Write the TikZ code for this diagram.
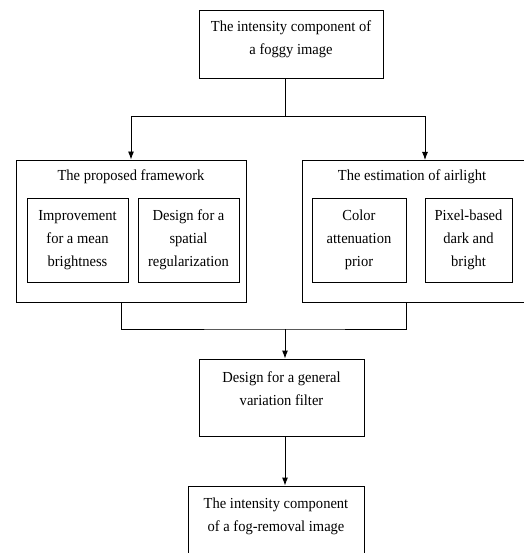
\documentclass[tikz,border=0pt]{standalone}
\usepackage{fontspec}
\setmainfont{Liberation Serif}[FakeStretch=0.95]
\usetikzlibrary{arrows.meta, calc, positioning}

\begin{document}
\begin{tikzpicture}[x=1pt, y=-1pt,
    box/.style={draw, line width=0.9pt, inner sep=0pt},
    txt/.style={align=center, inner sep=0pt, font=\fontsize{15.3}{23}\selectfont},
    link/.style={line width=0.9pt},
    arr/.style={-{Latex[length=8pt, width=6pt]}, line width=0.9pt}]
\useasboundingbox (0,0) rectangle (523,553);
% frames
\node[box, minimum width=184pt, minimum height=68pt] (input) at (291, 44) {};
\node[txt] (inputtext) at (291, 39) {The intensity component of\\a foggy image};
\node[box, minimum width=230pt, minimum height=142pt] (frame) at (131, 231) {};
\node[txt] (frametext) at (131, 177) {The proposed framework};
\node[box, minimum width=222pt, minimum height=142pt] (air) at (413, 231) {};
\node[txt] (airtext) at (412, 177) {The estimation of airlight};
% inner steps
\node[box, txt, minimum width=101pt, minimum height=84pt] (mean) at (77.5, 240) {Improvement\\for a mean\\brightness};
\node[box, txt, minimum width=101pt, minimum height=84pt] (spatial) at (188.5, 240) {Design for a\\spatial\\regularization};
\node[box, txt, minimum width=94pt, minimum height=84pt] (cap) at (359, 240) {Color\\attenuation\\prior};
\node[box, txt, minimum width=87pt, minimum height=84pt] (pixel) at (468.5, 240) {Pixel-based\\dark and\\bright};
% filter and result
\node[box, minimum width=165pt, minimum height=77pt] (gvf) at (281.5, 397.5) {};
\node[txt] (gvftext) at (281.5, 388.5) {Design for a general\\variation filter};
\node[box, minimum width=176pt, minimum height=80pt] (output) at (276, 526) {};
\node[txt] (outputtext) at (276, 516) {The intensity component\\of a fog-removal image};
% connectors
\coordinate (split) at (285, 116);
\coordinate (airin) at (425, 160);
\coordinate (frameout) at (121, 302);
\coordinate (airout) at (406, 302);
\coordinate (join) at (285, 329);
\draw[link] (input.south -| split) -- (split);
\draw[arr] (split) -| (frame.north);
\draw[arr] (split) -| (airin);
\draw[link] (frameout) |- (join) -| (airout);
\draw[arr] (join) -- (gvf.north -| join);
\draw[arr] (gvf.south -| join) -- (output.north -| join);
\end{tikzpicture}
\end{document}
